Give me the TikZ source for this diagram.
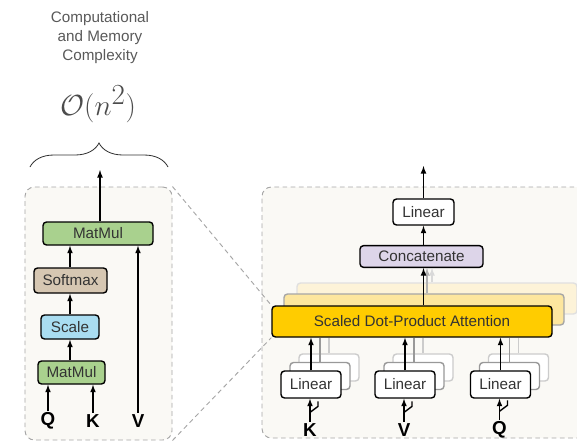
\documentclass[tikz,border=0pt]{standalone}
\usepackage[no-math]{fontspec}
\setmainfont{Liberation Sans}
\usetikzlibrary{decorations.pathreplacing,calc}
\definecolor{MatGreen}{HTML}{A9D18E}
\definecolor{SoftTan}{HTML}{D6C7B2}
\definecolor{ScaleBlue}{HTML}{A9DDF1}
\definecolor{ConcLilac}{HTML}{DDD5E9}
\definecolor{AttnGold}{HTML}{FFCC00}
\definecolor{AttnPale}{HTML}{FDE69E}
\definecolor{AttnFaint}{HTML}{FDF3D8}
\definecolor{PanelFill}{HTML}{FAF9F5}
\tikzset{
	box/.style={draw=black, line width=1.2pt, rounded corners=3pt, inner sep=0pt,
		text=black!80, font=\fontsize{13}{15}\selectfont},
	arr/.style={-latex, line width=1.2pt},
	panel/.style={draw=black!35, dash pattern=on 4pt off 3pt, line width=0.8pt,
		fill=PanelFill, rounded corners=8pt, inner sep=0pt},
	letter/.style={font=\bfseries\fontsize{16}{18}\selectfont, inner sep=1.5pt}
}

\begin{document}
\begin{tikzpicture}[x=0.3mm, y=-0.3mm]
%		\draw [step=10, gray, thin, opacity=0.3] (0,0) grid (577,442);
		\useasboundingbox (0,0) rectangle (577,442);
		
		% complexity note
		\node[align=center, text=black!65, font=\fontsize{13}{16}\selectfont] (note) at (100,37.5) {Computational\\and Memory\\Complexity};
		\node[text=black!70] (cplx) at (98,104) {\fontsize{36}{42}\selectfont$\mathcal{O}(n^2)$};
		\draw[decorate, decoration={brace, amplitude=7.2mm}, line width=0.7pt, black!80] (30,167) -- (168,167);
		
		% the two panels
		\node[panel, minimum width=44.1mm, minimum height=75.9mm] (left) at (98.5,313.5) {};
		\node[panel, minimum width=101.4mm, minimum height=75.3mm] (right) at (431,312.5) {};
		
		% scaled dot-product attention
		\node[box, fill=MatGreen, minimum width=33mm, minimum height=6.9mm] (mmtop) at (98,233.5) {MatMul};
		\node[box, fill=SoftTan, minimum width=21.9mm, minimum height=7.5mm] (softmax) at (70.5,280.5) {Softmax};
		\node[box, fill=ScaleBlue, minimum width=17.4mm, minimum height=7.2mm] (scale) at (70,327) {Scale};
		\node[box, fill=MatGreen, minimum width=20.1mm, minimum height=6.9mm] (mmbot) at (71.5,372.5) {MatMul};
		
		\node[letter] (lq) at (48,421) {Q};
		\node[letter] (lk) at (93,421) {K};
		\node[letter] (lv) at (138,421) {V};
		
		\coordinate (lout) at (100,170);
		\draw[arr] (mmtop.north -| lout) -- (lout);
		\draw[arr] (softmax.north -| 70,0) -- (mmtop.south -| 70,0);
		\draw[arr] (scale.north) -- (softmax.south -| scale.north);
		\draw[arr] (mmbot.north -| 70,0) -- (scale.south);
		\draw[arr] (lq.north) -- (mmbot.south -| lq.north);
		\draw[arr] (lk.north) -- (mmbot.south -| lk.north);
		\draw[arr] (lv.north) -- (mmtop.south -| lv.north);
		
		% multi-head attention
		\node[box, fill=white, minimum width=18.3mm, minimum height=7.8mm] (linout) at (423.5,212) {Linear};
		\node[box, fill=ConcLilac, minimum width=36.9mm, minimum height=6.5mm] (concat) at (421.5,256.5) {Concatenate};
		
		\node[box, fill=AttnFaint, draw=black!12, minimum width=84mm, minimum height=9.3mm] (sdpa2) at (437,298.5) {};
		\node[box, fill=AttnPale, draw=black!35, minimum width=84mm, minimum height=9.3mm] (sdpa1) at (424,309.5) {};
		\draw[arr, black!15] (sdpa2.north -| 432,0) -- (concat.south -| 432,0);
		\draw[arr, black!30] (sdpa1.north -| 427,0) -- (concat.south -| 427,0);
		\node[box, fill=AttnGold, minimum width=84mm, minimum height=9.3mm] (sdpa) at (412,321.5) {Scaled Dot-Product Attention};
		
		\draw[dash pattern=on 4pt off 3pt, line width=0.8pt, black!35] (left.north east) -- (sdpa.north west);
		\draw[dash pattern=on 4pt off 3pt, line width=0.8pt, black!35] (left.south east) -- (sdpa.south west);
		
		\foreach \n/\x/\lbl in {k/311/K, v/405/V, q/500.5/Q}{
			\node[box, fill=white, draw=black!20, minimum width=18mm, minimum height=8.1mm] (lin\n2) at (\x+18,367.5) {};
			\node[box, fill=white, draw=black!40, minimum width=18mm, minimum height=8.1mm] (lin\n1) at (\x+9,376) {};
			\draw[line width=1.2pt, black!20] (lin\n2.north) -- (lin\n2.north |- sdpa.south);
			\draw[line width=1.2pt, black!40] (lin\n1.north) -- (lin\n1.north |- sdpa.south);
			\node[box, fill=white, minimum width=18mm, minimum height=8.1mm] (lin\n) at (\x,384.5) {Linear};
			\node[letter] (in\n) at (\x-1,430) {\lbl};
			\draw[arr] (lin\n.north) -- (lin\n.north |- sdpa.south);
			\draw[arr] (in\n.north) -- (lin\n.south -| in\n.north);
			\draw[line width=1.2pt] ($(in\n.north)!0.4!(in\n.north |- lin\n.south)$) -- ++(8,-6) -- ++(0,-5);
		}
		
		\coordinate (rout) at (423.5,166);
		\draw[arr] (concat.north -| linout.south) -- (linout.south);
		\draw[arr] (sdpa.north -| linout.south) -- (concat.south -| linout.south);
		\draw[arr] (linout.north) -- (rout);
	\end{tikzpicture}
\end{document}
